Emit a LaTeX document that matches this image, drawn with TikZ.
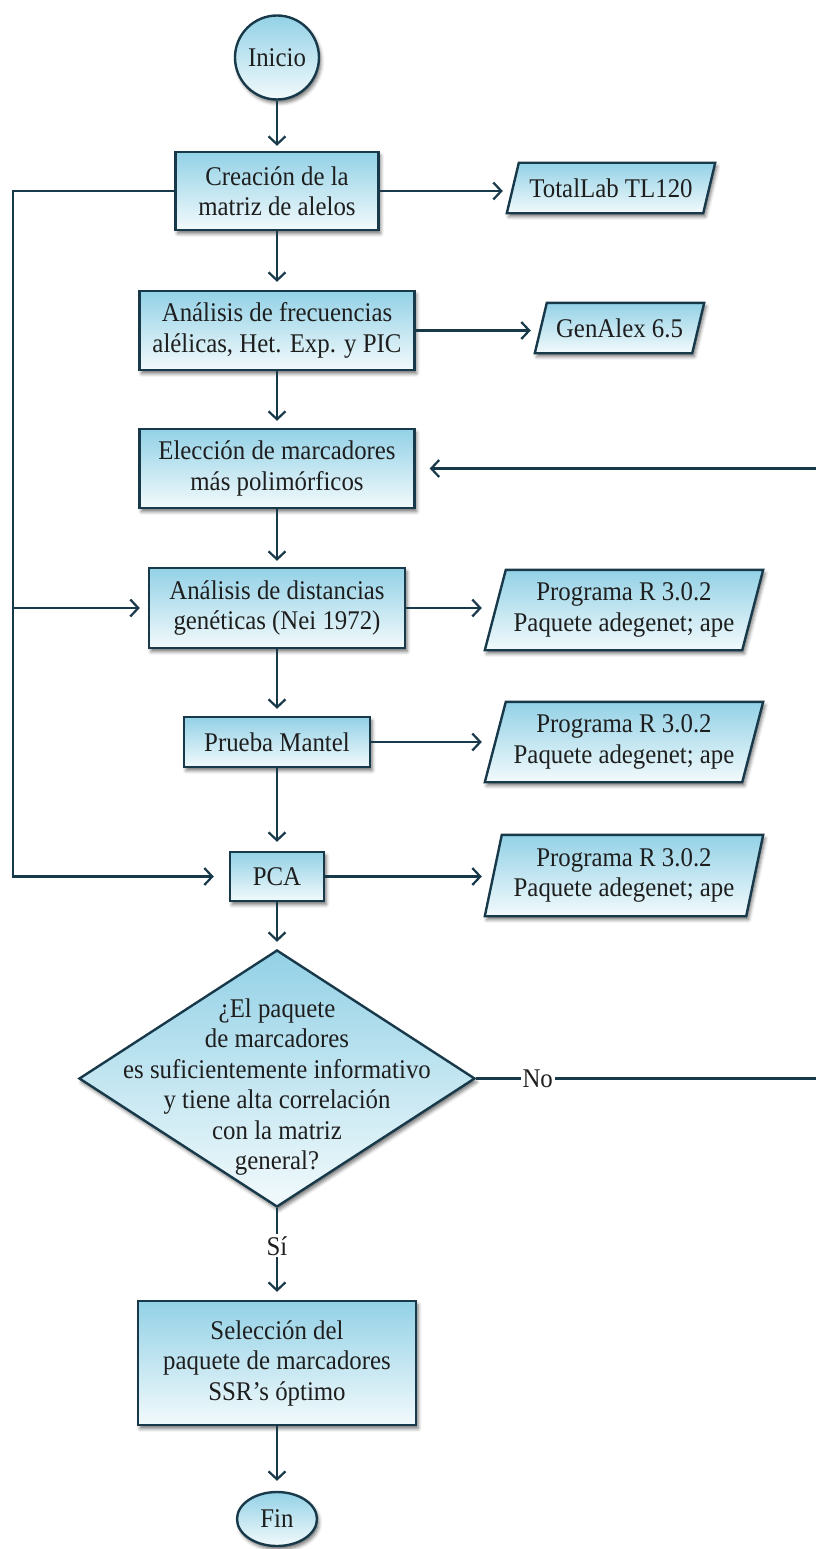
\documentclass[tikz,border=0pt]{standalone}
\usepackage{fontspec}
\setmainfont{Liberation Serif}[FakeStretch=0.92]
\usetikzlibrary{shapes.geometric,arrows.meta,shadows.blur,backgrounds,calc}
\definecolor{edge}{HTML}{18394A}
\definecolor{ftop}{HTML}{93D1E6}
\definecolor{fbot}{HTML}{F2FAFC}
\definecolor{txt}{HTML}{1E1E1E}
\newcommand\iopath[2]{%
  \begin{pgfonlayer}{background}
    \path[iobody] (#1.south west) -- ([xshift=#2pt]#1.north west) -- (#1.north east) -- ([xshift=-#2pt]#1.south east) -- cycle;
  \end{pgfonlayer}}
\tikzset{
  txtfont/.style={text=txt, font=\fontsize{27}{30.5}\selectfont},
  skin/.style={draw=edge, line width=2.4pt, top color=ftop, bottom color=fbot,
    blur shadow={shadow xshift=2pt, shadow yshift=-3.5pt, shadow blur radius=3.5pt, shadow opacity=55}},
  base/.style={skin, txtfont, align=center, inner sep=0pt},
  proc/.style={base, rectangle},
  term/.style={base, ellipse},
  decis/.style={base, diamond},
  iobox/.style={rectangle, txtfont, align=center, inner sep=0pt},
  iobody/.style={skin},
  conn/.style={draw=edge, line width=2.2pt, -{Straight Barb[length=8pt,width=17pt,line width=2.2pt]}},
  lab/.style={txtfont, fill=white, inner sep=2pt}
}
\begin{document}
\begin{tikzpicture}[x=1pt,y=-1pt]
\useasboundingbox (0,0) rectangle (815,1549);
% main column
\node[term, minimum width=84pt, minimum height=84pt] (inicio) at (277,57.5) {Inicio};
\node[proc, minimum width=203pt, minimum height=78pt] (b1) at (277,191) {Creación de la\\matriz de alelos};
\node[proc, minimum width=275pt, minimum height=79pt] (b2) at (277,330.5) {Análisis de frecuencias\\alélicas, Het. Exp. y PIC};
\node[proc, minimum width=275pt, minimum height=79pt] (b3) at (277,468.5) {Elección de marcadores\\más polimórficos};
\node[proc, minimum width=256pt, minimum height=80pt] (b4) at (277,608) {Análisis de distancias\\genéticas (Nei 1972)};
\node[proc, minimum width=186pt, minimum height=50pt] (b5) at (277,742) {Prueba Mantel};
\node[proc, minimum width=94pt, minimum height=49pt] (pca) at (277,876.5) {PCA};
\node[decis, minimum width=396pt, minimum height=257pt] (dec) at (277,1078.5) {};
\node[txtfont, align=center, inner sep=0pt] (dect) at (277,1087) {¿El paquete\\de marcadores\\es suficientemente informativo\\y tiene alta correlación\\con la matriz\\general?};
\node[proc, minimum width=278pt, minimum height=124pt] (fsel) at (277,1363) {Selección del\\paquete de marcadores\\SSR’s óptimo};
\node[term, minimum width=80pt, minimum height=54pt] (fin) at (277,1519) {Fin};
% input/output boxes
\node[iobox, minimum width=208pt, minimum height=50pt] (tl) at (611,188) {TotalLab TL120};
\iopath{tl}{12}
\node[iobox, minimum width=169pt, minimum height=50pt] (ga) at (619.5,328) {GenAlex 6.5};
\iopath{ga}{12}
\node[iobox, minimum width=278pt, minimum height=80pt] (p1) at (624,610) {Programa R 3.0.2\\Paquete adegenet; ape};
\iopath{p1}{21}
\node[iobox, minimum width=278pt, minimum height=80pt] (p2) at (624,742) {Programa R 3.0.2\\Paquete adegenet; ape};
\iopath{p2}{21}
\node[iobox, minimum width=278pt, minimum height=81pt] (p3) at (624,875.5) {Programa R 3.0.2\\Paquete adegenet; ape};
\iopath{p3}{17}
% helper coordinates
\coordinate (L) at (13,0);
\coordinate (R) at (818,0);
% vertical flow
\draw[conn, shorten >=5pt] (inicio) -- (b1);
\draw[conn, shorten >=8pt] (b1) -- (b2);
\draw[conn, shorten >=7pt] (b2) -- (b3);
\draw[conn, shorten >=6pt] (b3) -- (b4);
\draw[conn, shorten >=7pt] (b4) -- (b5);
\draw[conn, shorten >=9pt] (b5) -- (pca);
\draw[conn, shorten >=7pt] (pca) -- (dec);
\draw[conn, shorten >=8pt] (dec.south) -- node[lab, pos=0.41]{Sí} (fsel.north);
\draw[conn, shorten >=10pt] (fsel) -- (fin);
% to software
\draw[conn, shorten >=4pt] (b1.east) -- (b1.east -| tl.west);
\draw[conn, shorten >=4pt] (b2.east) -- (b2.east -| ga.west);
\draw[conn, shorten >=3pt] (b4.east) -- (b4.east -| p1.west);
\draw[conn, shorten >=3pt] (b5.east) -- (b5.east -| p2.west);
\draw[conn, shorten >=3pt] (pca.east) -- (pca.east -| p3.west);
% left loop
\draw[conn, shorten >=15pt] (b1.west) -- (b1.west -| L) -- (pca.west -| L) -- (pca.west);
\draw[conn, shorten >=8pt] (b4.west -| L) -- (b4.west);
% right loop (No)
\draw[conn, shorten >=14pt] (dec.east) -- node[lab, pos=0.18]{No} (dec.east -| R) -- (b3.east -| R) -- (b3.east);
\end{tikzpicture}
\end{document}
